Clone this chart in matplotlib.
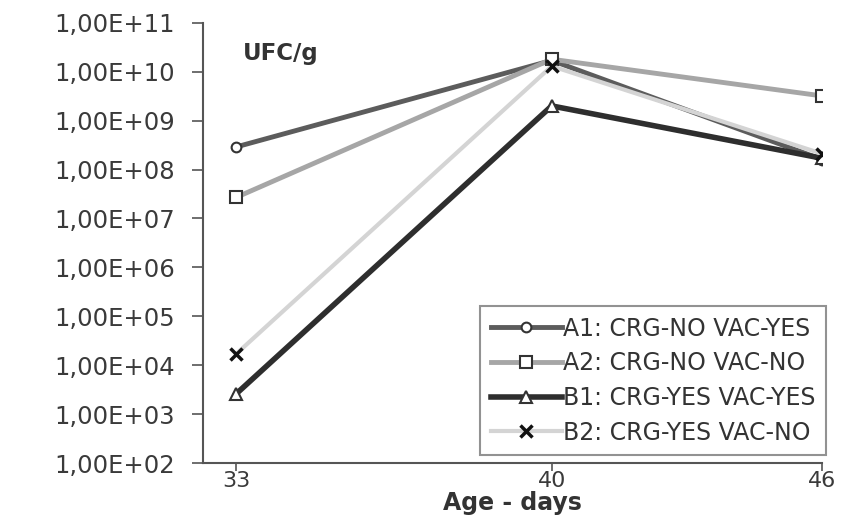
import matplotlib.pyplot as plt
import numpy as np

plt.rcParams['font.family'] = ['DejaVu Sans']

# age in days and counts (UFC/g) per group
days = [33, 40, 46]
a1 = [2.9e8, 1.7e10, 1.6e8]
a2 = [2.7e7, 1.8e10, 3.2e9]
b1 = [2.6e3, 2.0e9, 1.7e8]
b2 = [1.7e4, 1.3e10, 2.1e8]
labels = ['A1: CRG-NO VAC-YES', 'A2: CRG-NO VAC-NO',
          'B1: CRG-YES VAC-YES', 'B2: CRG-YES VAC-NO']
yticks = [10.0 ** k for k in range(2, 12)]
ytick_labels = ['1,00E+%02d' % k for k in range(2, 12)]

fig = plt.figure(figsize=(8.45, 5.18), dpi=100)
ax = fig.add_axes([0.240, 0.106, 0.733, 0.850])

ax.plot(days, a1, color='#5c5c5c', lw=3.5, marker='o', ms=7,
        mfc='white', mec='#333333', mew=1.5, label=labels[0])
ax.plot(days, a2, color='#a6a6a6', lw=3.5, marker='s', ms=8,
        mfc='white', mec='#333333', mew=1.5, label=labels[1])
ax.plot(days, b1, color='#2e2e2e', lw=4, marker='^', ms=8,
        mfc='white', mec='#333333', mew=1.5, label=labels[2])
ax.plot(days, b2, color='#d4d4d4', lw=3, marker='x', ms=8,
        mec='#111111', mew=2.5, label=labels[3])

ax.set_yscale('log')
ax.set_ylim(1e2, 1e11)
ax.set_xlim(32.26, 46)
ax.set_yticks(yticks)
ax.set_yticklabels(ytick_labels)
ax.minorticks_off()
ax.set_xticks(days)
ax.set_xticklabels([str(d) for d in days])

for s in ['top', 'right']:
    ax.spines[s].set_visible(False)
for s in ['left', 'bottom']:
    ax.spines[s].set_color('#555555')
    ax.spines[s].set_linewidth(1.5)
ax.tick_params(axis='y', length=8, width=1.2, color='#555555',
               labelsize=17.5, labelcolor='#3a3a3a', pad=12)
ax.tick_params(axis='x', length=6, width=1.2, color='#555555',
               labelsize=16, labelcolor='#3a3a3a', pad=0)

ax.text(0.065, 0.93, 'UFC/g', transform=ax.transAxes, fontsize=16.5,
        fontweight='bold', color='#333333', va='center')
ax.set_xlabel('Age - days', fontsize=17, fontweight='bold',
              color='#333333', labelpad=0)

leg = ax.legend(loc='lower right', bbox_to_anchor=(1.006, 0.018),
                fontsize=17, handlelength=3.0, frameon=True,
                fancybox=False, borderpad=0.45, labelspacing=0.45,
                handletextpad=0.05, borderaxespad=0)
leg.get_frame().set_edgecolor('#777777')
leg.get_frame().set_linewidth(1.5)
for t in leg.get_texts():
    t.set_color('#333333')

fig.savefig('out.png', dpi=100)
